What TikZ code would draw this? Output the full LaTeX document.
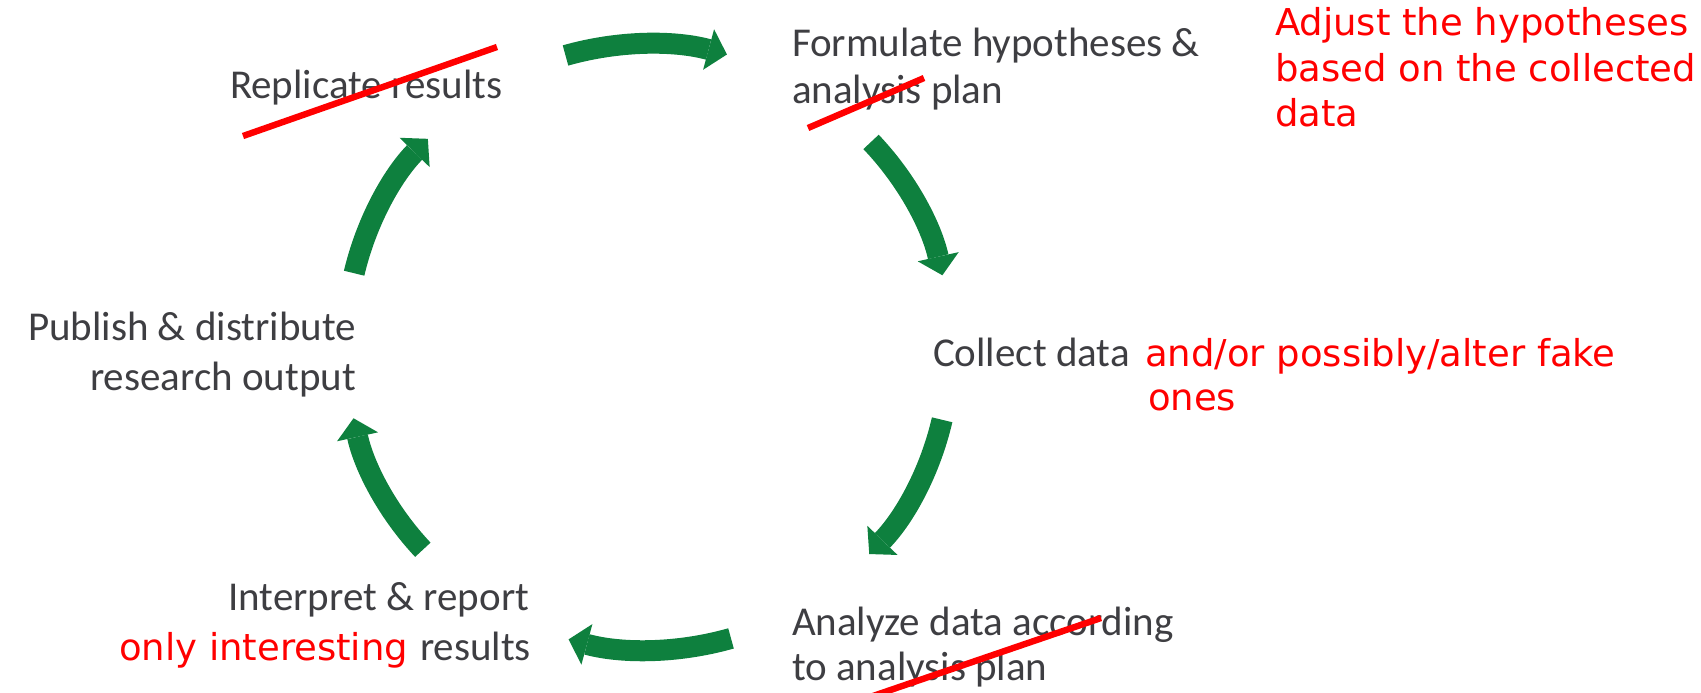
\documentclass[tikz,border=0pt]{standalone}
\usepackage{fontspec}
\setmainfont{Carlito}
\newfontfamily\notefont{DejaVu Sans}
\usetikzlibrary{arrows.meta}
\definecolor{cyclegreen}{RGB}{14,128,62}
\definecolor{steptext}{RGB}{62,62,66}
\definecolor{notered}{RGB}{255,0,0}
\begin{document}
\begin{tikzpicture}[x=0.5pt,y=-0.5pt,
  stage/.style={inner sep=0pt, outer sep=0pt, text=steptext,
    font=\fontsize{20.5}{24}\selectfont},
  note/.style={inner sep=0pt, outer sep=0pt, text=notered,
    font=\notefont\fontsize{18.5}{22}\selectfont},
  cyclearrow/.style={draw=cyclegreen, line width=10.5pt, line cap=butt,
    -{Triangle[length=9.5pt,width=21pt,line width=0pt]}},
  strike/.style={draw=notered, line width=3.2pt}]
\useasboundingbox (0,0) rectangle (1701,692);

% stages of the research cycle
\node[stage, anchor=base west] (rep) at (230,98) {Replicate results};
\node[stage, anchor=base west] (form1) at (792,56) {Formulate hypotheses \&};
\node[stage, anchor=base west] (form2) at (792,103) {analysis plan};
\node[stage, anchor=base west] (coll) at (933,366) {Collect data};
\node[stage, anchor=base west] (ana1) at (792,635) {Analyze data according};
\node[stage, anchor=base west] (ana2) at (792,680) {to analysis plan};
\node[stage, anchor=base east] (int1) at (529,610) {Interpret \& report};
\node[stage, anchor=base east] (int2) at (531,660) {results};
\node[stage, anchor=base east] (pub1) at (356,340) {Publish \& distribute};
\node[stage, anchor=base east] (pub2) at (356,390) {research output};

% red annotations
\node[note, anchor=base west] (adj1) at (1275,35) {Adjust the hypotheses};
\node[note, anchor=base west] (adj2) at (1275,81) {based on the collected};
\node[note, anchor=base west] (adj3) at (1275,126) {data};
\node[note, anchor=base west] (fake1) at (1145,366) {and/or possibly/alter fake};
\node[note, anchor=base west] (fake2) at (1148,410) {ones};
\node[note, anchor=base west] (only) at (119,660) {only interesting};

% cycle arrows on a circle around the centre of the diagram
\foreach \n/\a/\b in {1/-105.8/-74.9, 2/-42.6/-13.7, 3/13.9/43.1,
                      4/74.1/105.2, 5/138/166.4, 6/194.1/223.4} {
  \coordinate (s\n) at ({648+303*cos(\a)},{347+303*sin(\a)});
  \coordinate (e\n) at ({648+303*cos(\b)},{347+303*sin(\b)});
  \draw[cyclearrow] (s\n) to[bend left=15.5, looseness=0.87] (e\n);
}

% strike-through marks
\coordinate (x1a) at (243,136); \coordinate (x1b) at (497,47);
\coordinate (x2a) at (808,128); \coordinate (x2b) at (924,78);
\coordinate (x3a) at (870,697); \coordinate (x3b) at (1101,618);
\draw[strike] (x1a) -- (x1b);
\draw[strike] (x2a) -- (x2b);
\draw[strike] (x3a) -- (x3b);
\end{tikzpicture}
\end{document}
